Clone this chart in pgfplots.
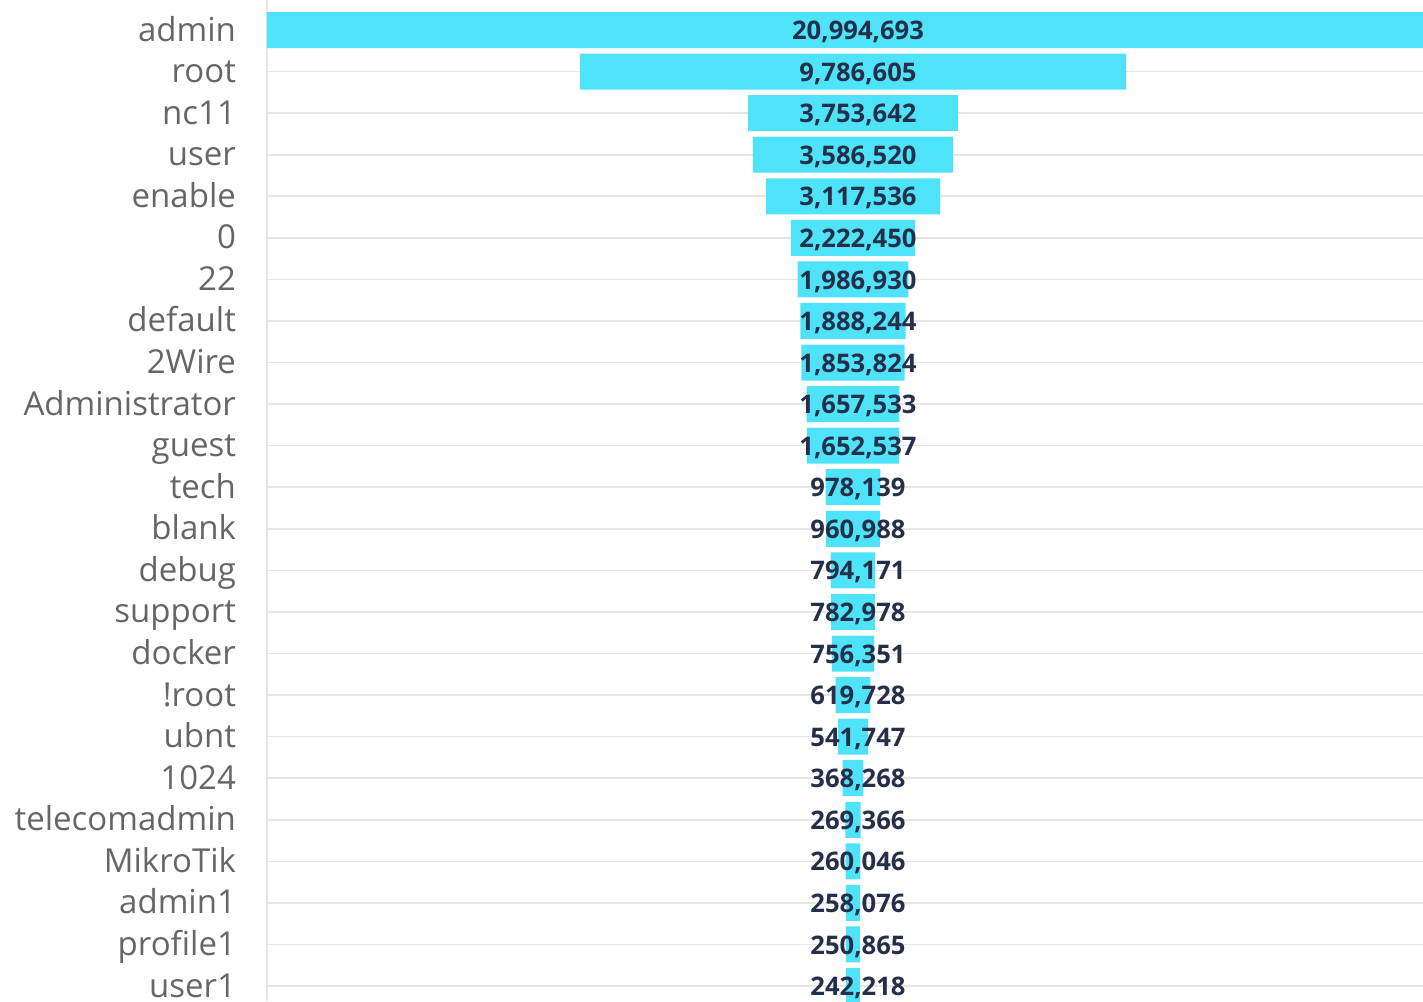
\documentclass[border=0pt]{standalone}
\usepackage{pgfplots}
\pgfplotsset{compat=1.18}
\usepackage{pgfplotstable}
\usepackage{fontspec}
\setmainfont{Open Sans}
\definecolor{barc}{HTML}{4FE3FA}
\definecolor{lblc}{HTML}{666666}
\definecolor{valc}{HTML}{252F4A}
\definecolor{gridc}{HTML}{E6E6E6}
\pgfplotstableread{
idx v
0 20994693
1 9786605
2 3753642
3 3586520
4 3117536
5 2222450
6 1986930
7 1888244
8 1853824
9 1657533
10 1652537
11 978139
12 960988
13 794171
14 782978
15 756351
16 619728
17 541747
18 368268
19 269366
20 260046
21 258076
22 250865
23 242218
}\data
\begin{document}
\begin{tikzpicture}
\begin{axis}[
  scale only axis,
  width=578pt, height=500.5pt,
  xmin=-10497346.5, xmax=10211000,
  ymin=-0.722, ymax=23.36,
  y dir=reverse,
  xbar, bar width=0.866, bar shift=0pt,
  axis x line=none,
  axis y line*=left,
  y axis line style={draw=gridc, line width=0.8pt, -},
  ytick={0,...,23},
  yticklabels={admin,root,nc11,user,enable,0,22,default,2Wire,Administrator,guest,tech,blank,debug,support,docker,!root,ubnt,1024,telecomadmin,MikroTik,admin1,profile1,user1},
  major tick length=0pt,
  yticklabel style={font=\fontsize{16.5}{19}\selectfont, text=lblc, anchor=base east, xshift=-12pt, yshift=-5.5pt},
  ymajorgrids,
  grid style={draw=gridc, line width=0.8pt},
  clip=true,
]
\addplot[fill=barc, draw=none] table[x expr=\thisrow{v}/2, y=idx] {\data};
\addplot[fill=barc, draw=none] table[x expr=-\thisrow{v}/2, y=idx] {\data};
\addplot[draw=none, mark=none, xbar=0pt, bar width=0,
  nodes near coords, point meta=explicit,
  nodes near coords align=center,
  every node near coord/.style={font=\bfseries\fontsize{12.8}{15}\selectfont, text=valc, anchor=center, xshift=2.5pt, yshift=-1pt},
  nodes near coords={\pgfmathprintnumber[fixed, precision=0, 1000 sep={,}, assume math mode=true]{\pgfplotspointmeta}},
] table[x expr=0, y=idx, meta=v] {\data};
\end{axis}
\pgfresetboundingbox
\useasboundingbox (-133.5pt,0) rectangle (578pt,500.5pt);
\end{tikzpicture}
\end{document}
